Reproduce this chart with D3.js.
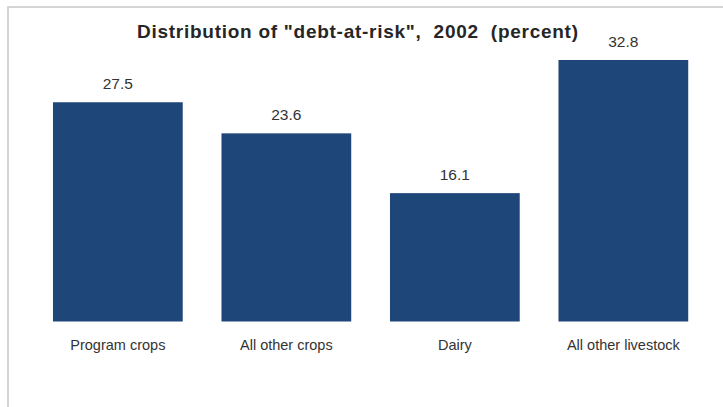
<!DOCTYPE html>
<html>
<head>
<meta charset="utf-8">
<script src="https://cdn.jsdelivr.net/npm/d3@7"></script>
<style>
  body { margin: 0; background: #fff; }
  text { font-family: "Liberation Sans", Arial, sans-serif; }
</style>
</head>
<body>
<div id="chart"></div>
<script>
// chart data
var categories = ["Program crops", "All other crops", "Dairy", "All other livestock"];
var values = [27.5, 23.6, 16.1, 32.8];
var title = "Distribution of \"debt-at-risk\",  2002  (percent)";

var width = 723, height = 407;

const svg = d3.select("#chart")
  .append("svg")
    .attr("width", width)
    .attr("height", height);

// light frame round the chart area
svg.append("path")
  .attr("d", "M8,407 L8,7 L723,7")
  .attr("fill", "none")
  .attr("stroke", "#c8c8c8")
  .attr("stroke-width", 1.5);

// scales
const x = d3.scaleBand()
  .domain(categories)
  .range([33.6, 707.6])
  .paddingInner(0.23)
  .paddingOuter(0.115);

const y = d3.scaleLinear()
  .domain([0, 32.8])
  .range([321.5, 60]);

// bars
svg.selectAll("rect.bar")
  .data(categories)
  .enter()
  .append("rect")
    .attr("class", "bar")
    .attr("x", d => x(d))
    .attr("width", x.bandwidth())
    .attr("y", (d, i) => y(values[i]))
    .attr("height", (d, i) => y(0) - y(values[i]))
    .attr("fill", "#1f4679");

// value labels
svg.selectAll("text.val")
  .data(categories)
  .enter()
  .append("text")
    .attr("class", "val")
    .attr("x", d => x(d) + x.bandwidth() / 2)
    .attr("y", (d, i) => y(values[i]) - 13)
    .attr("text-anchor", "middle")
    .style("font-size", "15.5px")
    .style("fill", "#333")
    .text((d, i) => values[i].toFixed(1));

// category axis, no line or ticks
const xAxis = svg.append("g")
  .attr("transform", `translate(0, ${y(0)})`)
  .call(d3.axisBottom(x).tickSize(0).tickPadding(18));
xAxis.select(".domain").remove();
xAxis.selectAll("text")
  .style("font-family", "\"Liberation Sans\", Arial, sans-serif")
  .style("font-size", "14.5px")
  .style("fill", "#333");

// title
svg.append("text")
  .attr("x", 357.5)
  .attr("y", 38)
  .attr("text-anchor", "middle")
  .attr("textLength", 441)
  .attr("lengthAdjust", "spacing")
  .style("font-size", "19px")
  .style("font-weight", "bold")
  .style("fill", "#262626")
  .style("white-space", "pre")
  .text(title);
</script>
</body>
</html>
